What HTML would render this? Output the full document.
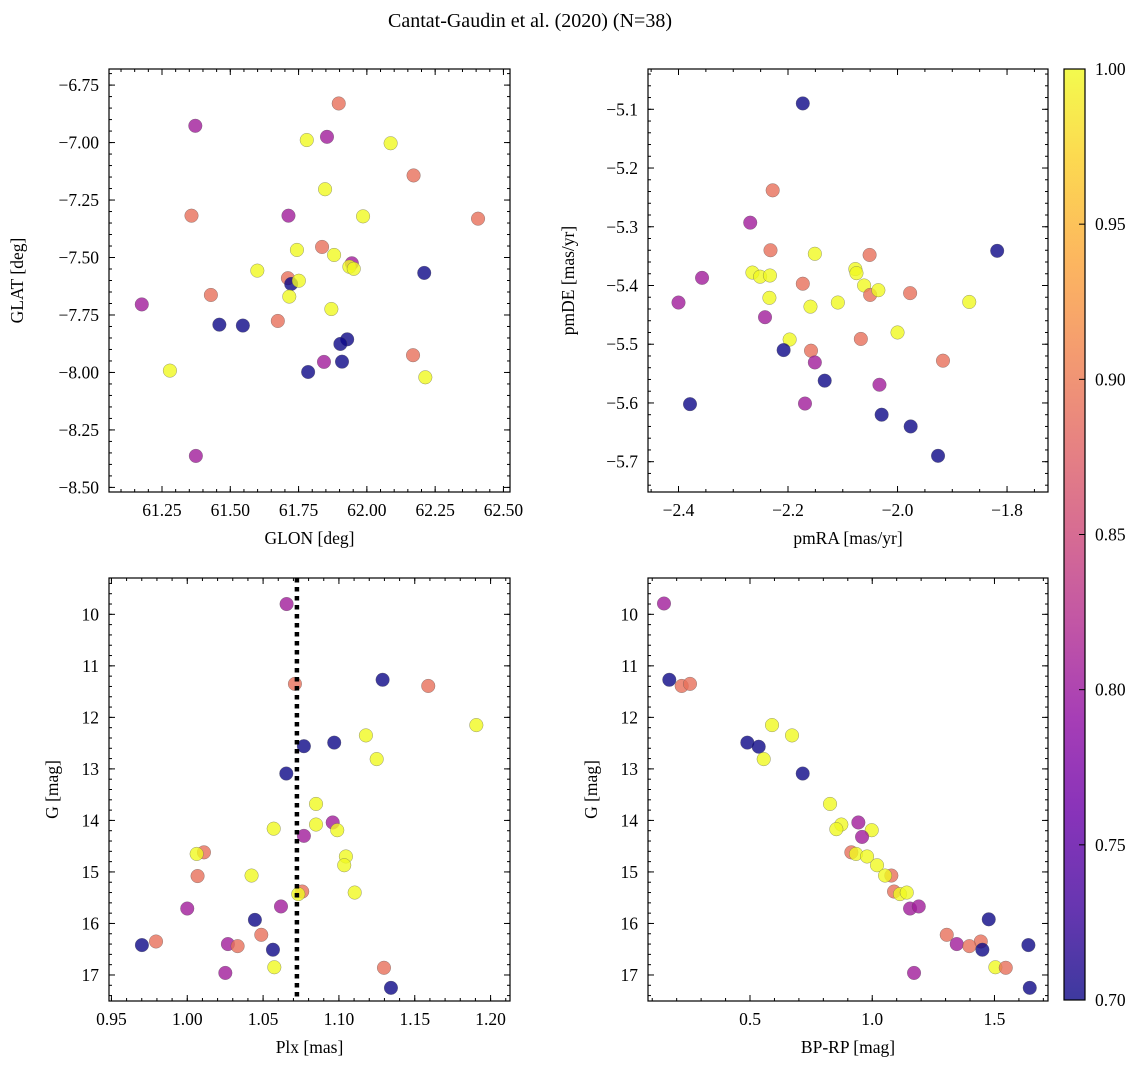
<!DOCTYPE html>
<html><head><meta charset="utf-8">
<style>
html,body{margin:0;padding:0;background:#fff;}
svg{display:block;font-family:"Liberation Serif","DejaVu Serif",serif;}
</style></head>
<body>
<svg id="fig" width="1148" height="1068" viewBox="0 0 1148 1068" xmlns="http://www.w3.org/2000/svg">
<defs>
<linearGradient id="plasma" x1="0" y1="1" x2="0" y2="0"></linearGradient>
</defs>
<text x="530" y="27" text-anchor="middle" font-size="20">Cantat-Gaudin et al. (2020) (N=38)</text>
</svg>
<script>
// ---------- data ----------
const tlX=[61.897,61.372,61.780,61.854,62.087,62.171,61.847,61.358,61.713,61.986,62.407,61.836,61.744,61.880,61.945,61.936,61.952,62.210,61.599,61.711,61.723,61.751,61.429,61.716,61.176,61.870,61.460,61.546,61.674,61.928,61.903,62.169,61.843,61.909,61.785,61.279,62.214,61.374];
const tlY=[-6.830,-6.927,-6.989,-6.975,-7.003,-7.143,-7.203,-7.318,-7.318,-7.321,-7.331,-7.454,-7.467,-7.489,-7.525,-7.540,-7.549,-7.567,-7.557,-7.590,-7.615,-7.601,-7.663,-7.670,-7.704,-7.724,-7.792,-7.796,-7.776,-7.856,-7.876,-7.925,-7.954,-7.953,-7.998,-7.992,-8.021,-8.363];
const tlC=[0.89,0.805,1,0.805,1,0.89,1,0.89,0.805,1,0.89,0.89,1,1,0.805,1,1,0.70,1,0.89,0.70,1,0.89,1,0.805,1,0.70,0.70,0.89,0.70,0.70,0.89,0.805,0.70,0.70,1,1,0.805];

const trX=[-2.173,-2.228,-2.269,-2.232,-2.151,-2.051,-1.818,-2.265,-2.251,-2.233,-2.357,-2.173,-2.077,-2.075,-2.061,-2.050,-2.035,-1.977,-1.869,-2.400,-2.234,-2.159,-2.109,-2.242,-2.000,-2.067,-2.197,-2.208,-2.158,-2.151,-1.917,-2.133,-2.033,-2.379,-2.169,-2.029,-1.976,-1.926];
const trY=[-5.090,-5.238,-5.293,-5.340,-5.346,-5.348,-5.341,-5.378,-5.385,-5.383,-5.387,-5.397,-5.372,-5.379,-5.400,-5.416,-5.408,-5.413,-5.428,-5.429,-5.421,-5.436,-5.429,-5.454,-5.480,-5.491,-5.492,-5.510,-5.511,-5.531,-5.528,-5.562,-5.569,-5.602,-5.601,-5.620,-5.640,-5.690];
const trC=[0.70,0.89,0.805,0.89,1,0.89,0.70,1,1,1,0.805,0.89,1,1,1,0.89,1,0.89,1,0.805,1,1,1,0.805,1,0.89,1,0.70,0.89,0.805,0.89,0.70,0.805,0.70,0.805,0.70,0.70,0.70];

const blX=[1.0655,1.0710,1.1288,1.1589,1.1906,1.1178,1.0769,1.0969,1.1249,1.0653,1.0849,1.0959,1.0849,1.0989,1.0570,1.0769,1.0110,1.0062,1.1046,1.1035,1.0068,1.0424,1.0758,1.0732,1.1104,1.0000,1.0618,1.0446,1.0488,0.9701,0.9794,1.0268,1.0332,1.0565,1.0574,1.0251,1.1297,1.1343];
const blY=[9.80,11.35,11.27,11.39,12.15,12.35,12.56,12.49,12.81,13.09,13.68,14.04,14.08,14.19,14.16,14.30,14.62,14.65,14.70,14.87,15.08,15.07,15.38,15.43,15.40,15.71,15.67,15.93,16.22,16.42,16.35,16.40,16.44,16.51,16.85,16.96,16.86,17.25];
const blC=[0.805,0.89,0.70,0.89,1,1,0.70,0.70,1,0.70,1,0.805,1,1,1,0.805,0.89,1,1,1,0.89,1,0.89,1,1,0.805,0.805,0.70,0.89,0.70,0.89,0.805,0.89,0.70,1,0.805,0.89,0.70];
const plxMean=1.0723;

const brX=[0.1481,0.1698,0.2205,0.2545,0.5900,0.6718,0.4890,0.5356,0.5560,0.7156,0.8273,0.9432,0.8736,0.8531,0.9979,0.9583,0.9145,0.9337,0.9787,1.0196,1.0782,1.0524,1.0892,1.1137,1.1412,1.1547,1.1903,1.4766,1.3048,1.6388,1.4440,1.3457,1.3974,1.4505,1.5037,1.1710,1.5462,1.6444];
const brY=[9.79,11.27,11.39,11.35,12.15,12.35,12.49,12.57,12.81,13.09,13.68,14.04,14.08,14.17,14.19,14.32,14.62,14.65,14.70,14.87,15.07,15.07,15.38,15.43,15.40,15.71,15.67,15.92,16.22,16.42,16.35,16.40,16.44,16.51,16.85,16.96,16.86,17.25];
const brC=[0.805,0.70,0.89,0.89,1,1,0.70,0.70,1,0.70,1,0.805,1,1,1,0.805,0.89,1,1,1,0.89,1,0.89,1,1,0.805,0.805,0.70,0.89,0.70,0.89,0.805,0.89,0.70,1,0.805,0.89,0.70];

const cbTicks=[0.70,0.75,0.80,0.85,0.90,0.95,1.00];

// ---------- helpers ----------
const NS="http://www.w3.org/2000/svg";
const svg=document.getElementById('fig');
function mk(tag,attrs,parent){const e=document.createElementNS(NS,tag);for(const k in attrs)e.setAttribute(k,attrs[k]);(parent||svg).appendChild(e);return e;}
const stops=[[0,'#0d0887'],[0.1,'#41049d'],[0.2,'#6a00a8'],[0.3,'#8f0da4'],[0.4,'#b12a90'],[0.5,'#cc4778'],[0.6,'#e16462'],[0.7,'#f2844b'],[0.8,'#fca636'],[0.9,'#fcce25'],[1,'#f0f921']];
function hex(h){return [1,3,5].map(i=>parseInt(h.substr(i,2),16));}
function plasma(t){t=Math.max(0,Math.min(1,t));for(let i=1;i<stops.length;i++){if(t<=stops[i][0]){const a=stops[i-1],b=stops[i];const f=(t-a[0])/(b[0]-a[0]);const ca=hex(a[1]),cb=hex(b[1]);return 'rgb('+ca.map((v,j)=>Math.round(v+(cb[j]-v)*f)).join(',')+')';}}return stops[stops.length-1][1];}
const cmin=0.70,cmax=1.00;
function fmt(v,d){return (v<0?'\u2212':'')+Math.abs(v).toFixed(d);}

function panel(o){
  const g=mk('g',{});
  
  
  const sx=v=>o.L+(v-o.x0)/(o.x1-o.x0)*(o.R-o.L);
  const sy=v=>o.inv? o.T+(v-o.y0)/(o.y1-o.y0)*(o.B-o.T) : o.B-(v-o.y0)/(o.y1-o.y0)*(o.B-o.T);
  const tk=mk('g',{stroke:'#000','stroke-width':1},g);
  
  
  function ticksX(step,len,labels,dec){
    const s=Math.ceil(o.x0/step-1e-6),e=Math.floor(o.x1/step+1e-6);
    for(let i=s;i<=e;i++){const v=i*step,x=sx(v);
      mk('line',{x1:x,x2:x,y1:o.B,y2:o.B-len},tk);mk('line',{x1:x,x2:x,y1:o.T,y2:o.T+len},tk);
      if(labels){const t=mk('text',{x:x,y:o.B+24,'text-anchor':'middle','font-size':17.5,stroke:'none',fill:'#000'},g);t.textContent=fmt(v,dec);
        }}
  }
  function ticksY(step,len,labels,dec){
    const lo=Math.min(o.y0,o.y1),hi=Math.max(o.y0,o.y1);
    const s=Math.ceil(lo/step-1e-6),e=Math.floor(hi/step+1e-6);
    for(let i=s;i<=e;i++){const v=i*step,y=sy(v);
      mk('line',{x1:o.L,x2:o.L+len,y1:y,y2:y},tk);mk('line',{x1:o.R,x2:o.R-len,y1:y,y2:y},tk);
      if(labels){const t=mk('text',{x:o.L-10,y:y+6,'text-anchor':'end','font-size':17.5,stroke:'none',fill:'#000'},g);t.textContent=fmt(v,dec);
        }}
  }
  ticksX(o.xmin,3,false);ticksX(o.xmaj,6,true,o.xd);
  ticksY(o.ymin,3,false);ticksY(o.ymaj,6,true,o.yd);
  const pg=mk('g',{},g);
  
  
  for(let i=0;i<o.X.length;i++){
    const c=mk('circle',{cx:sx(o.X[i]),cy:sy(o.Y[i]),r:6.8,fill:plasma((o.C[i]-cmin)/(cmax-cmin)),'fill-opacity':0.8,stroke:'#555','stroke-opacity':0.6,'stroke-width':0.5},pg);
    
    
  }
  if(o.vline!==undefined){
    const l=mk('line',{x1:sx(o.vline),x2:sx(o.vline),y1:o.T,y2:o.B,stroke:'#000','stroke-width':4.5,'stroke-dasharray':'4.5,4.5'},g);
    
    
  }
  const fr=mk('rect',{x:o.L,y:o.T,width:o.R-o.L,height:o.B-o.T,fill:'none',stroke:'#000','stroke-width':1.2},g);
  
  
  const xl=mk('text',{x:(o.L+o.R)/2,y:o.B+52,'text-anchor':'middle','font-size':17.5},g);xl.textContent=o.xlab;
  
  const yx=o.ylx,yy=(o.T+o.B)/2;
  const yl=mk('text',{x:yx,y:yy,'text-anchor':'middle','font-size':17.5,transform:'rotate(-90 '+yx+' '+yy+')'},g);yl.textContent=o.ylab;
  
}

panel({name:'glon-glat-panel',L:109,R:510,T:69,B:492,x0:61.056,x1:62.524,y0:-8.52,y1:-6.680,xmaj:0.25,xmin:0.05,ymaj:0.25,ymin:0.05,xd:2,yd:2,X:tlX,Y:tlY,C:tlC,xlab:'GLON [deg]',ylab:'GLAT [deg]',ylx:23});
panel({name:'proper-motion-panel',L:648,R:1048,T:69,B:492,x0:-2.4557,x1:-1.7252,y0:-5.7516,y1:-5.0314,xmaj:0.2,xmin:0.05,ymaj:0.1,ymin:0.02,xd:1,yd:1,X:trX,Y:trY,C:trC,xlab:'pmRA [mas/yr]',ylab:'pmDE [mas/yr]',ylx:574});
panel({name:'parallax-mag-panel',L:109,R:510,T:578,B:1001,x0:0.9484,x1:1.2128,y0:9.295,y1:17.505,inv:true,xmaj:0.05,xmin:0.01,ymaj:1,ymin:0.2,xd:2,yd:0,X:blX,Y:blY,C:blC,vline:plxMean,xlab:'Plx [mas]',ylab:'G [mag]',ylx:58});
panel({name:'cmd-panel',L:648,R:1048,T:578,B:1001,x0:0.0827,x1:1.719,y0:9.295,y1:17.505,inv:true,xmaj:0.5,xmin:0.1,ymaj:1,ymin:0.2,xd:1,yd:0,X:brX,Y:brY,C:brC,xlab:'BP-RP [mag]',ylab:'G [mag]',ylx:597});

// colorbar
const grad=document.getElementById('plasma');
for(const s of stops){mk('stop',{offset:s[0],'stop-color':s[1],'stop-opacity':0.8},grad);}
const cbT=69,cbB=1000,cbL=1064,cbR=1085;
const cbY=v=>cbB-(v-cmin)/(cmax-cmin)*(cbB-cbT);
const cbg=mk('g',{});


mk('rect',{x:cbL,y:cbT,width:cbR-cbL,height:cbB-cbT,fill:'url(#plasma)',stroke:'#000','stroke-width':1.2},cbg);
for(const v of cbTicks){const y=cbY(v);
  mk('line',{x1:cbR,x2:cbR-6,y1:y,y2:y,stroke:'#000','stroke-width':1},cbg);
  const t=mk('text',{x:cbR+10,y:y+6,'font-size':17.5},cbg);t.textContent=v.toFixed(2);
  
  
}
</script>
</body></html>
